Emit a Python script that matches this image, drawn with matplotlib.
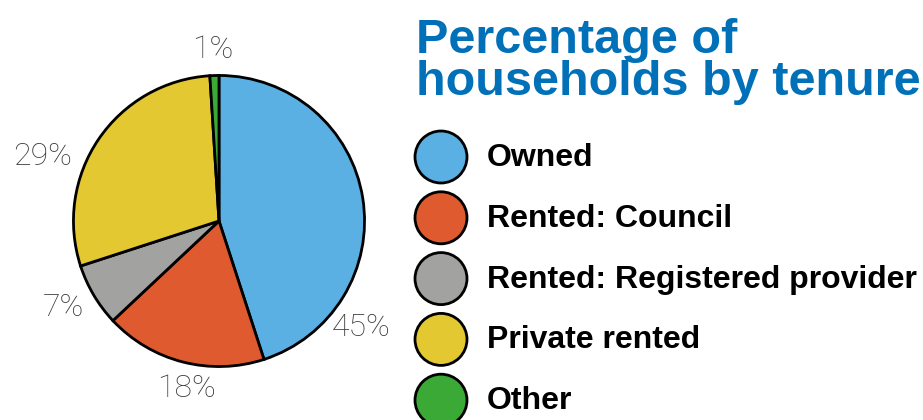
import numpy as np
import matplotlib.pyplot as plt
from matplotlib.patches import Circle

categories = ["Owned", "Rented: Council", "Rented: Registered provider",
              "Private rented", "Other"]
shares = [45, 18, 7, 29, 1]
colors = ["#5AAFE3", "#E05A30", "#A2A2A0", "#E3C832", "#3AA935"]
# where each percentage label sits (degrees, radius multiple)
label_angles = [-37, -101, -151, 160, 92]
label_dist = [1.22, 1.17, 1.22, 1.29, 1.18]

W, H = 923, 420
fig = plt.figure(figsize=(W / 100, H / 100), dpi=100)

# full-figure overlay in pixel coords
ov = fig.add_axes([0, 0, 1, 1])
ov.set_xlim(0, W)
ov.set_ylim(H, 0)
ov.axis("off")

cx, cy, r = 219, 221, 147
ax = fig.add_axes([(cx - r) / W, (H - cy - r) / H, 2 * r / W, 2 * r / H])
ax.pie(shares, colors=colors, startangle=90, counterclock=False,
       wedgeprops=dict(edgecolor="black", linewidth=2))
ax.set_aspect("equal")
ax.set_xlim(-1.01, 1.01)
ax.set_ylim(-1.01, 1.01)

for v, a, d in zip(shares, label_angles, label_dist):
    t = np.deg2rad(a)
    ax.text(d * np.cos(t), d * np.sin(t), f"{v}%", ha="center", va="center",
            fontsize=23, color="#3a3a3a", family="Roboto", fontweight="light",
            clip_on=False)

ov.text(416, 95, "Percentage of\nhouseholds by tenure", ha="left",
        va="baseline", fontsize=35, fontweight="bold", color="#0070B8",
        family="Liberation Sans", linespacing=0.92)

y0, step = 157, 60.8
for i, (name, c) in enumerate(zip(categories, colors)):
    y = y0 + i * step
    ov.add_patch(Circle((441, y), 26, facecolor=c, edgecolor="black",
                        linewidth=2))
    ov.text(487, y + 1, name, ha="left", va="center", fontsize=23,
            fontweight="bold", color="black", family="Liberation Sans")

fig.savefig("out.png", dpi=100)
